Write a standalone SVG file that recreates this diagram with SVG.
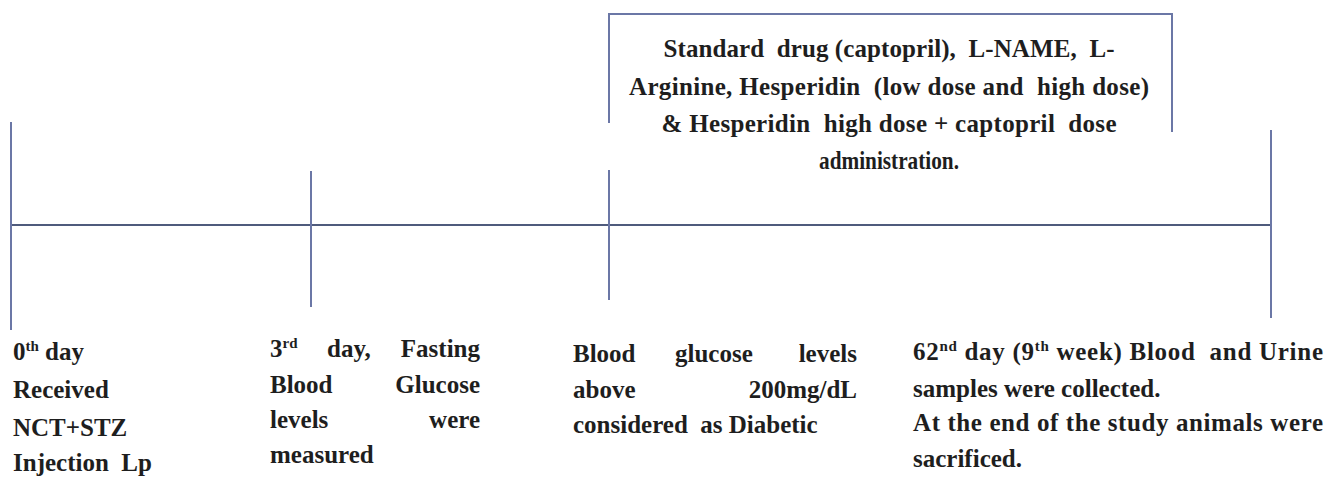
<svg xmlns="http://www.w3.org/2000/svg" width="1326" height="479" viewBox="0 0 1326 479">
<style>
.t{font-family:"Liberation Serif","Times New Roman",serif;font-weight:bold;font-size:25px;fill:#1e1e1e;white-space:pre}
.tb{font-family:"Liberation Serif","Times New Roman",serif;font-weight:bold;font-size:25px;fill:#1e1e1e;text-anchor:middle;white-space:pre}
.e{text-anchor:end}
.sup{font-size:15px}
.v{stroke:#6b77a6;stroke-width:2;fill:none}
.h{stroke:#4f5b7c;stroke-width:2;fill:none}
</style>
<rect width="1326" height="479" fill="#ffffff"/>
<g id="connectors">
<line class="h" x1="11" y1="225" x2="1271" y2="225"/>
<line class="v" x1="11" y1="122" x2="11" y2="330"/>
<line class="v" x1="311" y1="171" x2="311" y2="307"/>
<line class="v" x1="609" y1="170" x2="609" y2="300"/>
<line class="v" x1="1271" y1="130" x2="1271" y2="318"/>
</g>
<g id="box-treatment">
<path class="v" d="M609,123 V14 H1172 V132"/>
<text class="tb" x="889" y="57" textLength="451">Standard  drug (captopril),  L-NAME,  L-</text>
<text class="tb" x="889" y="95" textLength="520">Arginine, Hesperidin  (low dose and  high dose)</text>
<text class="tb" x="889" y="132" textLength="455">&amp; Hesperidin  high dose + captopril  dose</text>
<text class="tb" x="889" y="169" textLength="140" lengthAdjust="spacingAndGlyphs">administration.</text>
</g>
<g id="label-day0">
<text class="t" x="13" y="360">0<tspan class="sup" dy="-9">th</tspan><tspan dy="9"> day</tspan></text>
<text class="t" x="13" y="398">Received</text>
<text class="t" x="13" y="436">NCT+STZ</text>
<text class="t" x="13" y="471">Injection  Lp</text>
</g>
<g id="label-day3">
<text class="t" x="270" y="357">3<tspan class="sup" dy="-9">rd</tspan></text>
<text class="t" x="327" y="357">day,</text>
<text class="t e" x="480" y="357">Fasting</text>
<text class="t" x="270" y="393">Blood</text>
<text class="t e" x="480" y="393">Glucose</text>
<text class="t" x="270" y="428">levels</text>
<text class="t e" x="480" y="428">were</text>
<text class="t" x="270" y="463">measured</text>
</g>
<g id="label-diabetic">
<text class="t" x="573" y="362">Blood</text>
<text class="t" x="675" y="362">glucose</text>
<text class="t e" x="857" y="362">levels</text>
<text class="t" x="573" y="398">above</text>
<text class="t e" x="857" y="398">200mg/dL</text>
<text class="t" x="573" y="433">considered  as Diabetic</text>
</g>
<g id="label-day62">
<text class="t" x="913" y="360" textLength="410">62<tspan class="sup" dy="-9">nd</tspan><tspan dy="9"> day (9</tspan><tspan class="sup" dy="-9">th</tspan><tspan dy="9"> week) Blood  and Urine</tspan></text>
<text class="t" x="913" y="397">samples were collected.</text>
<text class="t" x="913" y="431" textLength="410">At the end of the study animals were</text>
<text class="t" x="913" y="467">sacrificed.</text>
</g>
</svg>
